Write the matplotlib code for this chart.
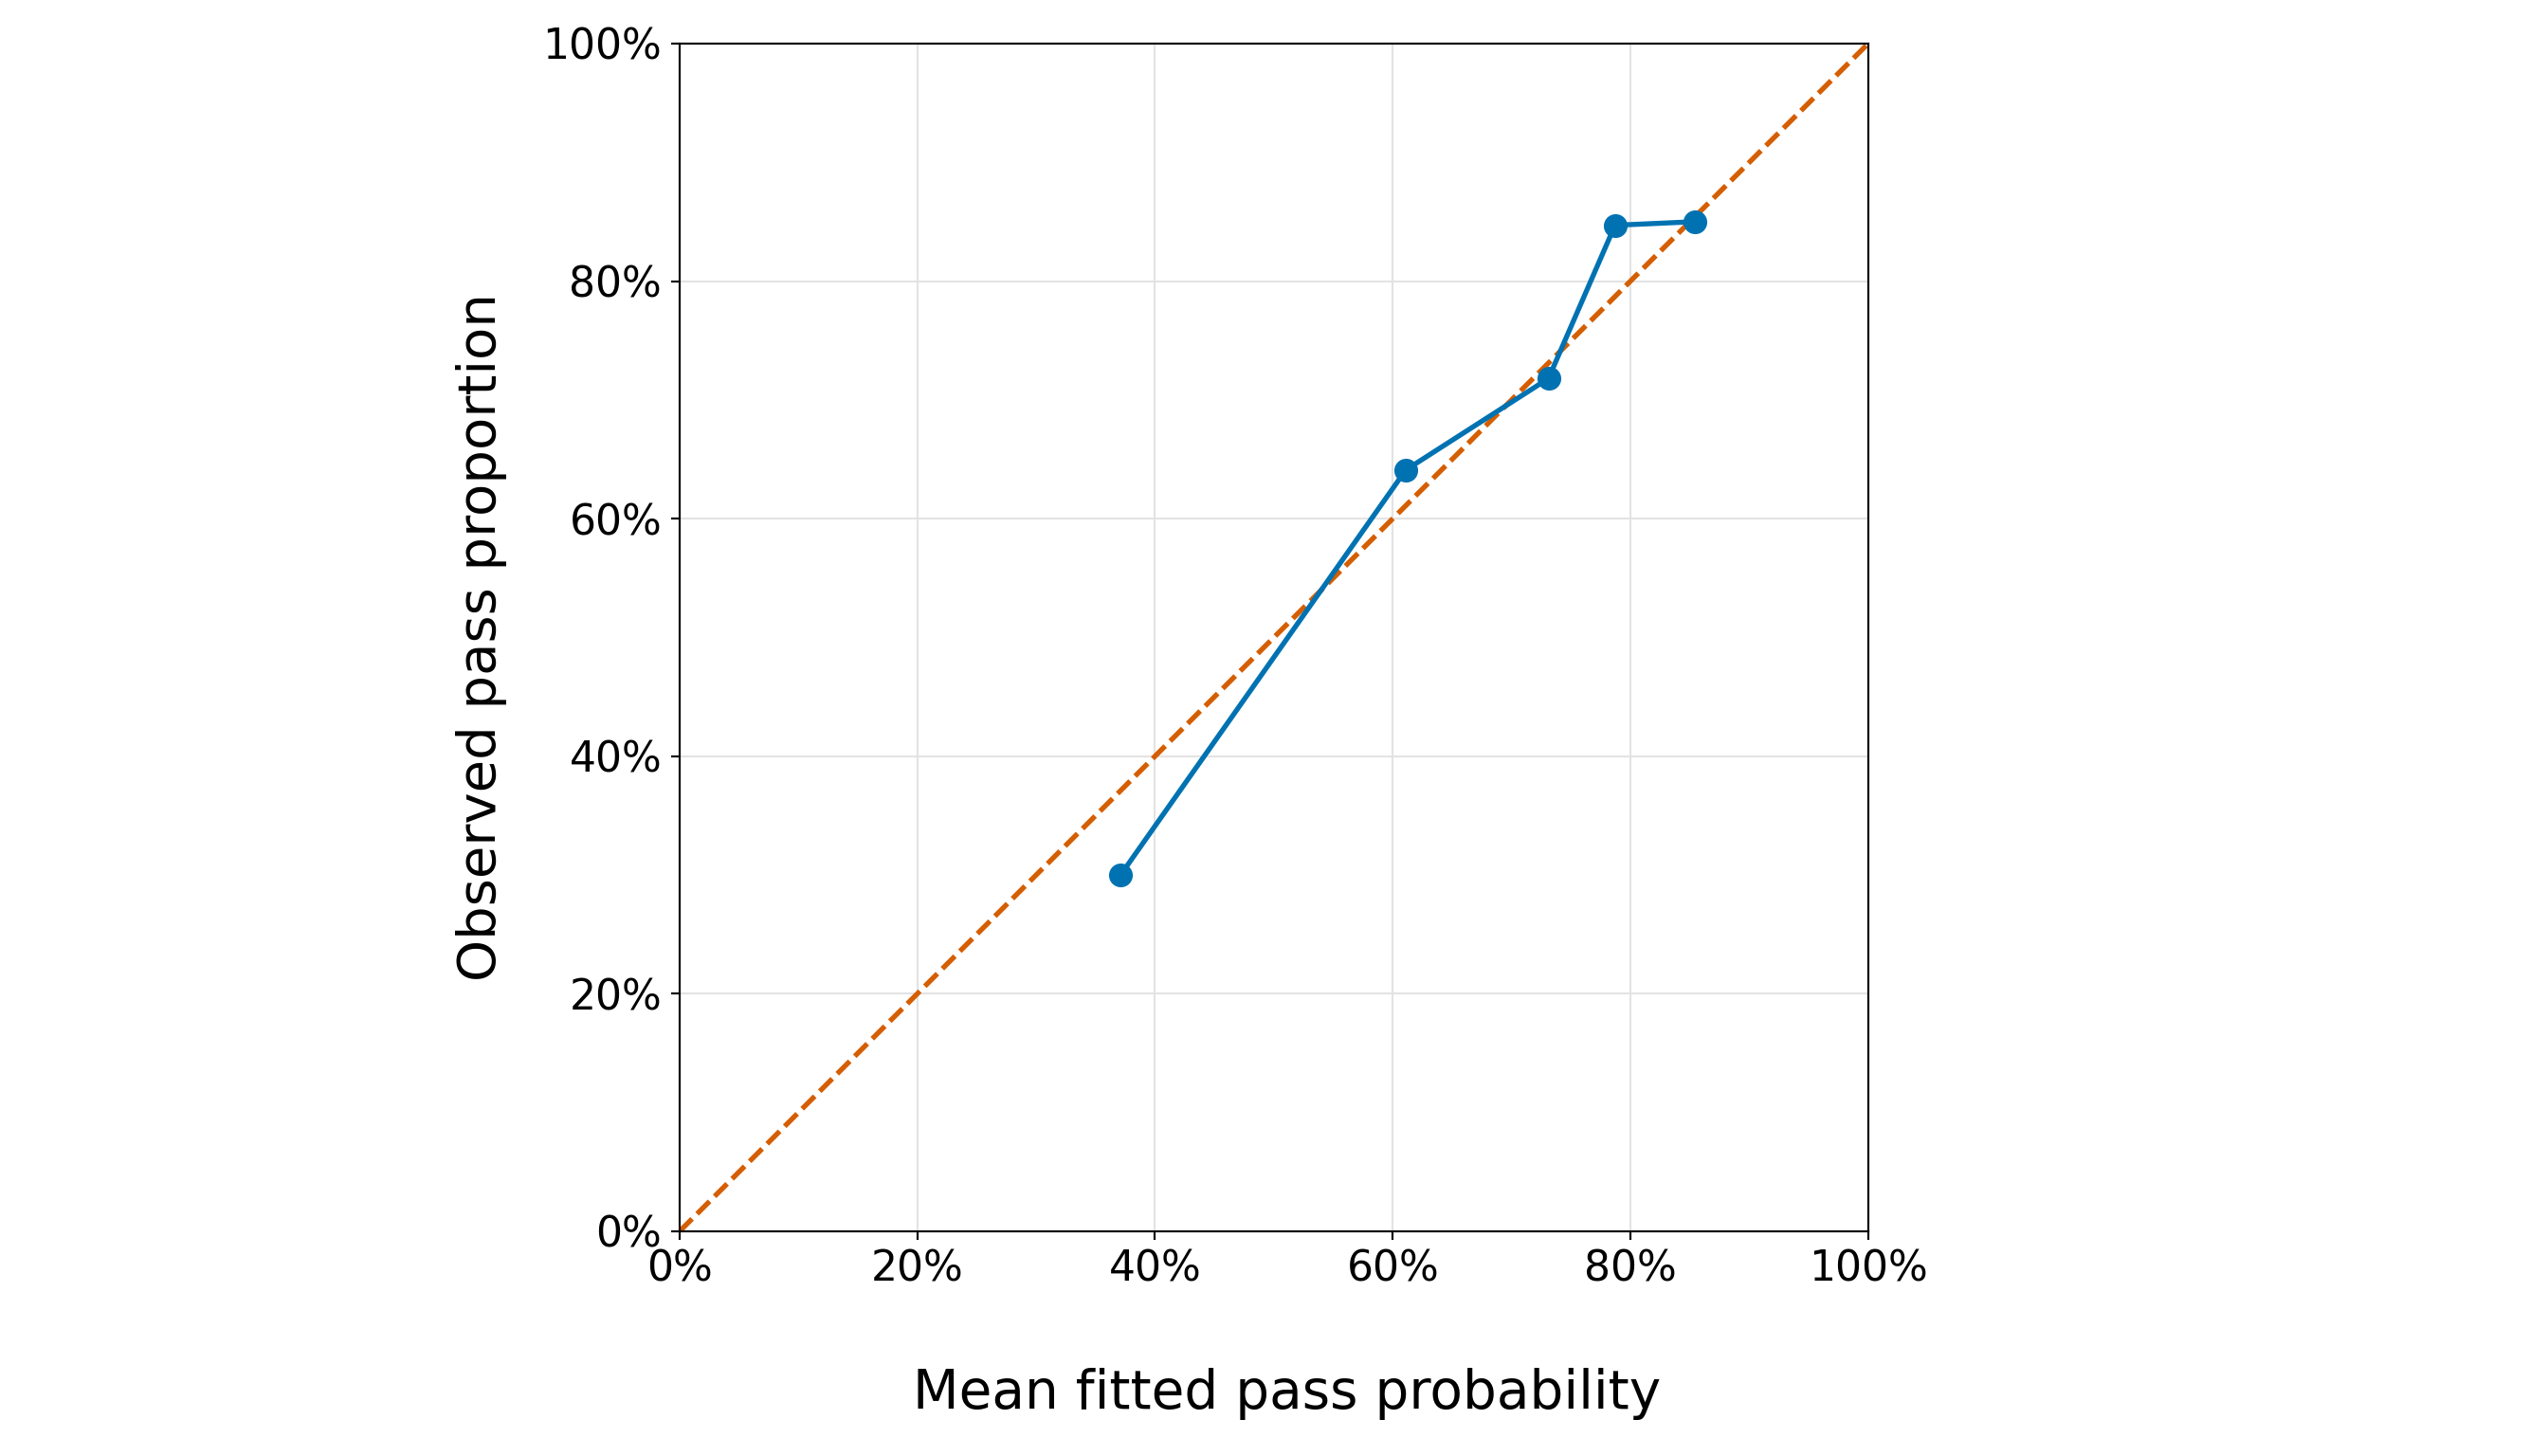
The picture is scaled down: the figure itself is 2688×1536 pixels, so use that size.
import matplotlib
matplotlib.use("Agg")
import matplotlib.pyplot as plt
from matplotlib.ticker import PercentFormatter

# calibration bins: mean fitted probability vs observed pass share
mean_fitted = [0.371, 0.611, 0.731, 0.787, 0.854]
observed = [0.300, 0.641, 0.718, 0.847, 0.850]
ticks = [0, 0.2, 0.4, 0.6, 0.8, 1.0]

blue = "#0072B2"
orange = "#D55E00"

fig = plt.figure(figsize=(14, 8), dpi=192)
ax = fig.add_axes([0.2667, 0.1543, 0.4665, 0.8158])

ax.plot([0, 1], [0, 1], linestyle="--", dashes=(3.5, 1.4), color=orange,
        linewidth=2, zorder=2)
ax.plot(mean_fitted, observed, "-o", color=blue, linewidth=2,
        markersize=8.4, zorder=3)

ax.set_xlim(0, 1)
ax.set_ylim(0, 1)
ax.xaxis.set_major_formatter(PercentFormatter(1.0, decimals=0))
ax.yaxis.set_major_formatter(PercentFormatter(1.0, decimals=0))
ax.set_xticks(ticks)
ax.set_yticks(ticks)
ax.tick_params(labelsize=16.5)
ax.grid(True, color="#e3e3e3", linewidth=0.8)
ax.set_axisbelow(True)

ax.set_xlabel("Mean fitted pass probability", fontsize=21.2, labelpad=31)
ax.xaxis.label.set_x(0.511)
ax.set_ylabel("Observed pass proportion", fontsize=21, labelpad=14)

fig.savefig("out.png", dpi=192)
